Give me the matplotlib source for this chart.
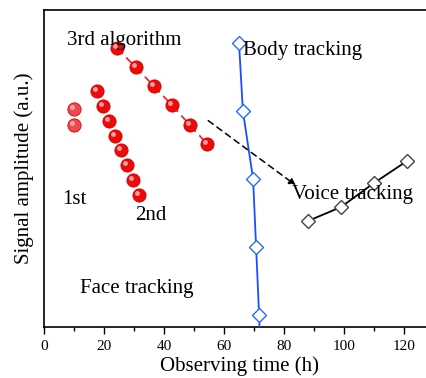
import matplotlib.pyplot as plt
from matplotlib.transforms import ScaledTranslation

plt.rcParams['font.family'] = ['Liberation Serif', 'DejaVu Serif']

# 1st algorithm
first_x = [10, 10]
first_y = [218, 202]
# 2nd algorithm
second_x = [17.7, 19.7, 21.7, 23.7, 25.7, 27.7, 29.7, 31.7]
second_y = [236, 221, 206, 191, 177, 162, 147, 132]
# 3rd algorithm
third_x = [24.3, 30.5, 36.6, 42.6, 48.6, 54.4]
third_y = [279, 260, 241, 222, 202, 183]
# body tracking (last point falls below the axis)
body_x = [65, 66.3, 69.7, 70.7, 71.7, 72.5]
body_y = [284, 216, 148, 80, 12, -60]
# voice tracking
voice_x = [88, 99, 110, 121]
voice_y = [106, 120, 144, 166]

fig = plt.figure(figsize=(4.26, 3.78), dpi=100)
ax = fig.add_axes([44 / 426, 51 / 378, 390 / 426, 317 / 378])

# small shift so the shine sits top-left on each ball
shine = ax.transData + ScaledTranslation(-1.8 / 100, 1.8 / 100, fig.dpi_scale_trans)

ax.plot(third_x, third_y, '--', color='#e8202a', lw=1.2, dashes=(5, 3), zorder=2)
for xs, ys, c in [(first_x, first_y, '#ef4a50'), (second_x, second_y, '#ee0a0a'),
                  (third_x, third_y, '#ee0a0a')]:
    ax.plot(xs, ys, 'o', color=c, ms=9.5, mec='#d00000', mew=0.6, zorder=3)
    ax.plot(xs, ys, 'o', color='#ffb0b0', ms=3.5, mec='none', alpha=0.9, zorder=4,
            transform=shine)

ax.plot(body_x, body_y, '-', color='#1a4dff', lw=1.3, marker='D', ms=7.5,
        mfc='white', mec='#2a6cf0', mew=1.0, zorder=3)
ax.plot(voice_x, voice_y, '-', color='black', lw=1.3, marker='D', ms=7.5,
        mfc='white', mec='#444444', mew=1.0, zorder=3)

ax.annotate('', xy=(84.7, 140), xytext=(54, 208),
            arrowprops=dict(arrowstyle='-|>', linestyle=(0, (4, 3)), color='black',
                            lw=1.1, mutation_scale=10))

fs = 15
ax.text(7.7, 287, '3rd algorithm', fontsize=fs, va='center')
ax.text(66.3, 277, 'Body tracking', fontsize=fs, va='center')
ax.text(6, 127, '1st', fontsize=fs, va='center')
ax.text(30.3, 111, '2nd', fontsize=fs, va='center')
ax.text(82.6, 133, 'Voice tracking', fontsize=fs, va='center')
ax.text(12, 38, 'Face tracking', fontsize=fs, va='center')

ax.set_xlim(0, 130)
ax.set_ylim(0, 317)
ax.set_xticks(range(0, 121, 20))
ax.set_xticks(range(10, 131, 20), minor=True)
ax.set_yticks([])
ax.tick_params(axis='x', which='major', length=5, width=1, labelsize=11, pad=4)
ax.tick_params(axis='x', which='minor', length=3, width=1)
for s in ax.spines.values():
    s.set_linewidth(1.2)
ax.set_xlabel('Observing time (h)', fontsize=15, labelpad=3)
ax.set_ylabel('Signal amplitude (a.u.)', fontsize=15, labelpad=7)

fig.savefig('out.png', dpi=100)
